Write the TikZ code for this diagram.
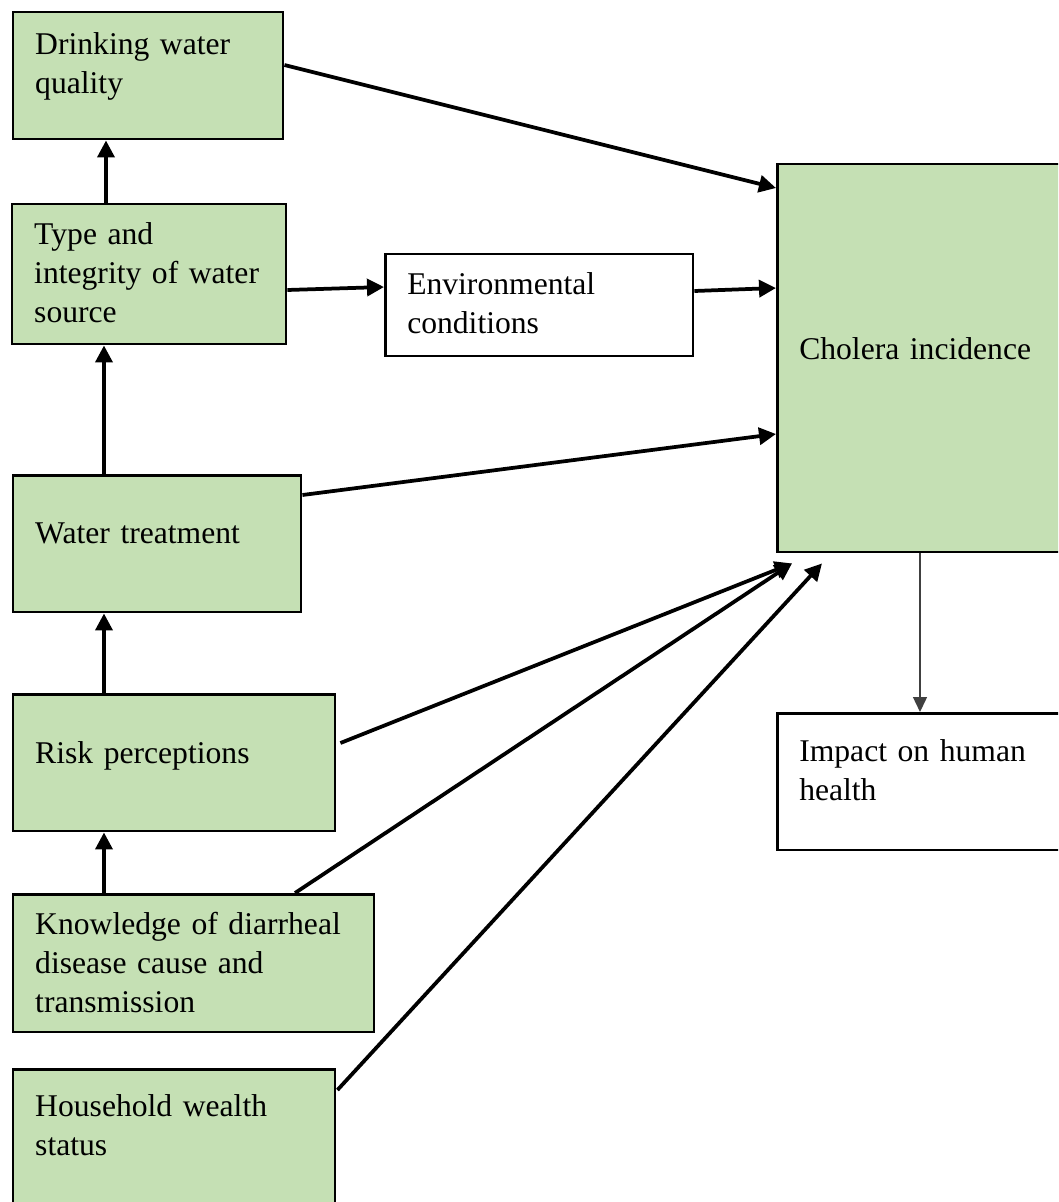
\documentclass[tikz,border=0pt]{standalone}
\usepackage{fontspec}
\setmainfont{Liberation Serif}
\usepackage{tikz}
\usetikzlibrary{arrows.meta,positioning,calc}

\definecolor{boxgreen}{HTML}{C5E0B4}
\newcommand{\boxtext}{\fontsize{18}{22.4}\selectfont}

\tikzset{
  factor/.style={draw,line width=0.05cm,fill=boxgreen,anchor=north west,
    inner xsep=0.44cm,inner ysep=0pt,align=left,font=\boxtext},
  outcome/.style={factor,fill=white},
  link/.style={line width=0.075cm,-{Triangle[length=0.34cm,width=0.34cm]}},
  thinlink/.style={line width=0.028cm,black!75,-{Triangle[length=0.3cm,width=0.28cm]}}
}

\begin{document}
\begin{tikzpicture}[x=0.02cm,y=-0.02cm]
\clip (0,0) rectangle (1058,1202);

% left column of factors
\node[factor,text width=4.52cm,text height=0.84cm,text depth=1.70cm] (drink) at (12,11) {Drinking water\\quality};
\node[factor,text width=4.60cm,text height=0.80cm,text depth=2.00cm] (type) at (11,203) {Type and\\integrity of water\\source};
\node[factor,text width=4.88cm,text height=1.36cm,text depth=1.38cm] (wt) at (12,474) {Water treatment};
\node[factor,text width=5.56cm,text height=1.38cm,text depth=1.36cm] (risk) at (12,693) {Risk perceptions};
\node[factor,text width=6.34cm,text height=0.80cm,text depth=1.96cm] (know) at (12,893) {Knowledge of diarrheal\\disease cause and\\transmission};
\node[factor,text width=5.56cm,text height=0.94cm,text depth=2.26cm] (house) at (12,1068) {Household wealth\\status};

% middle and right
\node[outcome,text width=5.28cm,text height=0.80cm,text depth=1.24cm] (env) at (384,253) {Environmental\\conditions};
\node[factor,text width=5.12cm,text height=3.90cm,text depth=3.86cm] (chol) at (776,163) {Cholera incidence};
\node[outcome,text width=5.12cm,text height=0.96cm,text depth=1.78cm] (impact) at (776,712) {Impact on human\\health};

% arrow heads below cholera box
\coordinate (cin1) at ($(chol.south west)+(16,10)$);
\coordinate (cin2) at ($(chol.south west)+(46,10)$);

% vertical chain
\draw[link] ([xshift=1.90cm]type.north west) -- ([xshift=1.88cm]drink.south west);
\draw[link] ([xshift=1.84cm]wt.north west) -- ([xshift=1.86cm]type.south west);
\draw[link] ([xshift=1.84cm]risk.north west) -- ([xshift=1.84cm]wt.south west);
\draw[link] ([xshift=1.84cm]know.north west) -- ([xshift=1.84cm]risk.south west);

% into cholera incidence
\draw[link] ($(drink.north east)+(0,54)$) -- ($(chol.north west)+(0,25)$);
\draw[link] ($(type.north east)+(0,87)$) -- ($(env.north west)+(0,34)$);
\draw[link] ($(env.north east)+(0,38)$) -- ($(chol.north west)+(0,125)$);
\draw[link] ($(wt.north east)+(0,21)$) -- ($(chol.north west)+(0,271)$);
\draw[link] ($(risk.north east)+(4,50)$) -- (cin1);
\draw[link] ($(know.north west)+(283,0)$) -- (cin1);
\draw[link] ($(house.north east)+(1,22)$) -- (cin2);

% outcome
\draw[thinlink] ($(chol.south west)+(144,0)$) coordinate (c0) -- (c0 |- impact.north);
\end{tikzpicture}
\end{document}
